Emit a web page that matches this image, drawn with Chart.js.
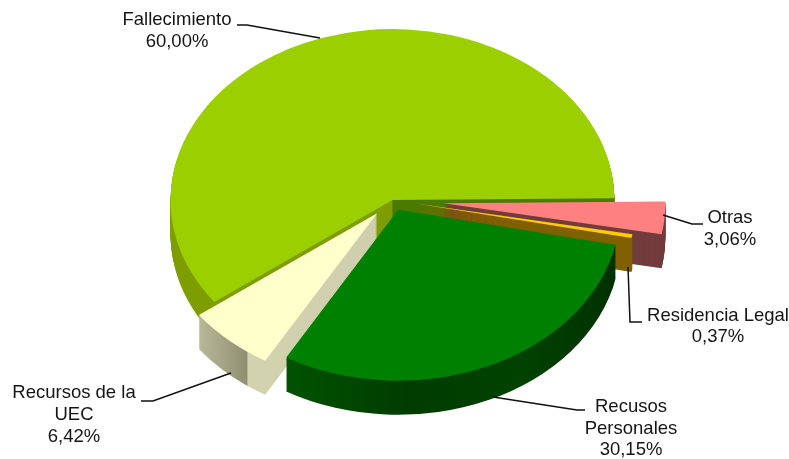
<!DOCTYPE html>
<html>
<head>
<meta charset="utf-8">
<style>
  html, body { margin: 0; padding: 0; background: #fff; }
  canvas { display: block; }
</style>
<script src="https://cdn.jsdelivr.net/npm/chart.js@4/dist/chart.umd.min.js"></script>
</head>
<body>
<canvas id="grafico" width="789" height="459"></canvas>
<script>
const categorias = [['Fallecimiento'], ['Otras'], ['Residencia Legal'], ['Recusos', 'Personales'], ['Recursos de la', 'UEC']];
const valores = [60.00, 3.06, 0.37, 30.15, 6.42];
const separacion = [0, 51, 22, 14, 23];
const coloresTapa = ['#9CCF00', '#FF8080', '#FFCC00', '#008000', '#FFFFCC'];

// pie tilt and wall height
const escalaY = 0.77;
const profundidad = 34;

// label centre x, first line y, line height, leader line
const posiciones = [
  { x: 177, y: 20, alto: 22, guia: [[237, 25], [247, 25], [320, 38]] },
  { x: 730, y: 218, alto: 22, guia: [[663, 215], [692, 224], [703, 224]] },
  { x: 718, y: 316, alto: 21, guia: [[628, 267], [630, 322], [642, 322]] },
  { x: 631, y: 407, alto: 21.5, guia: [[493, 397], [577, 410], [585, 410]] },
  { x: 74, y: 393, alto: 22, guia: [[231, 373], [153, 401], [141, 401]] }
];

const ctx = document.getElementById('grafico').getContext('2d');

function rampa(x0, x1, paradas) {
  const g = ctx.createLinearGradient(x0, 0, x1, 0);
  paradas.forEach((p) => g.addColorStop(p[0], p[1]));
  return g;
}

const coloresPared = [
  rampa(170, 616, [[0, '#7E9D00'], [0.497, '#7E9D00'], [0.5, '#4A7A00'], [1, '#4A7A00']]),
  '#733C3C',
  '#806000',
  rampa(285, 616, [[0, '#005200'], [0.35, '#003C00'], [0.7, '#004200'], [1, '#003000']]),
  rampa(197, 377, [[0, '#C8C8A8'], [0.36, '#8F8F72'], [0.37, '#D2D2AE'], [1, '#CFCFAE']])
];

// draws one arc squashed in y, moved out along its middle angle and down by bajada
function estampar(c, arco, i, color, bajada) {
  const medio = (arco.startAngle + arco.endAngle) / 2;
  const opcionesOriginales = arco.options;
  arco.options = { ...opcionesOriginales, backgroundColor: color, borderWidth: 0 };

  c.save();
  c.translate(0, arco.y + bajada);
  c.scale(1, escalaY);
  c.translate(0, -arco.y);
  c.translate(Math.cos(medio) * separacion[i], Math.sin(medio) * separacion[i]);
  arco.draw(c);
  c.restore();

  arco.options = opcionesOriginales;
}

const tarta3d = {
  id: 'tarta3d',
  beforeDatasetsDraw(chart) {
    const c = chart.ctx;
    const arcos = chart.getDatasetMeta(0).data;
    // back to front
    [0, 1, 2, 4, 3].forEach((i) => {
      for (let d = profundidad; d > 0; d--) {
        estampar(c, arcos[i], i, coloresPared[i], d);
      }
      estampar(c, arcos[i], i, coloresTapa[i], 0);
    });
    return false;
  },
  afterDraw(chart) {
    const c = chart.ctx;
    c.save();
    c.strokeStyle = '#111';
    c.lineWidth = 1.5;
    c.fillStyle = '#151515';
    c.font = '18.5px "Liberation Sans", Arial, sans-serif';
    c.textAlign = 'center';
    c.textBaseline = 'middle';
    categorias.forEach((lineas, i) => {
      const p = posiciones[i];
      c.beginPath();
      p.guia.forEach((q, n) => (n ? c.lineTo(q[0], q[1]) : c.moveTo(q[0], q[1])));
      c.stroke();
      const texto = lineas.concat(valores[i].toFixed(2).replace('.', ',') + '%');
      texto.forEach((t, n) => c.fillText(t, p.x, p.y + n * p.alto));
    });
    c.restore();
  }
};

new Chart(ctx, {
  type: 'pie',
  data: {
    labels: categorias,
    datasets: [{ data: valores, backgroundColor: coloresTapa, borderWidth: 0 }]
  },
  options: {
    responsive: false,
    animation: false,
    rotation: -126.6,
    radius: 222,
    layout: { padding: { right: 4, bottom: 59 } },
    plugins: { legend: { display: false }, tooltip: { enabled: false } }
  },
  plugins: [tarta3d]
});
</script>
</body>
</html>
